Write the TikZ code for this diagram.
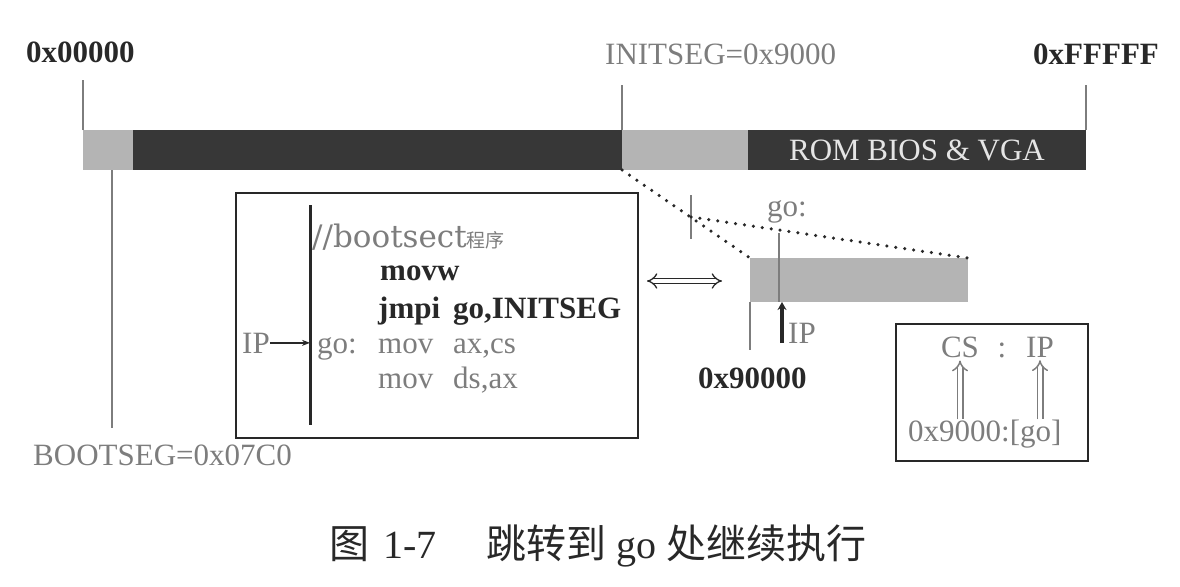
\documentclass[tikz,border=0pt]{standalone}
\usepackage{fontspec}
\setmainfont{Liberation Serif}
\newfontfamily\cjk{Noto Sans CJK SC}
\newfontfamily\cmtfont{DejaVu Serif}
\usetikzlibrary{positioning,arrows.meta}
\definecolor{inkdark}{RGB}{40,40,40}
\definecolor{inkgray}{RGB}{125,125,125}
\definecolor{bardark}{RGB}{55,55,55}
\definecolor{hatchgray}{RGB}{180,180,180}
\newcommand{\lblfont}{\fontsize{31}{36}\selectfont}

\begin{document}
\begin{tikzpicture}[
    x=1pt, y=-1pt,
    seg/.style={rectangle, inner sep=0pt, outer sep=0pt, minimum height=40pt, anchor=north west},
    lbl/.style={inner sep=0pt, anchor=base west, font=\lblfont, text=inkgray},
    dark lbl/.style={lbl, text=inkdark, font=\lblfont\bfseries},
    tick/.style={draw=inkgray, line width=1.4pt},
    frame/.style={rectangle, draw=inkdark, line width=2pt, inner sep=0pt, anchor=north west},
    dots/.style={draw=inkdark, line width=3.5pt, dash pattern=on 0pt off 9pt, line cap=round},
    hollow/.style={draw=inkgray, double=white, double distance=4pt, line width=1.5pt,
                   -{Implies[length=7pt, width=14pt]}, shorten >=3pt}
]
    \useasboundingbox (0,0) rectangle (1180,586);

    % memory bar
    \node[seg, fill=hatchgray, minimum width=50pt] (bootarea) at (83,130) {};
    \node[seg, fill=bardark, minimum width=489pt, right=0pt of bootarea] (lowmem) {};
    \node[seg, fill=hatchgray, minimum width=126pt, right=0pt of lowmem] (initarea) {};
    \node[seg, fill=bardark, minimum width=338pt, right=0pt of initarea,
          font=\lblfont, text=white!90!black] (rom) {ROM BIOS \& VGA};

    \node[dark lbl] (lo) at (26,63) {0x00000};
    \node[lbl] (initlbl) at (605,65) {INITSEG=0x9000};
    \node[dark lbl] (hi) at (1033,65) {0xFFFFF};
    \node[lbl] (bootlbl) at (33,465) {BOOTSEG=0x07C0};

    \draw[tick] (bootarea.north west) -- ++(0,-50);
    \draw[tick] (initarea.north west) -- ++(0,-45);
    \draw[tick] (rom.north east) -- ++(0,-45);
    \coordinate (bootpt) at (112,170);
    \draw[tick] (bootpt) -- ++(0,258);

    % bootsect code
    \node[frame, minimum width=402pt, minimum height=245pt] (code) at (235,192) {};
    \coordinate (ctop) at (310,205);
    \coordinate (cbot) at (310,425);
    \draw[inkdark, line width=3pt] (ctop) -- (cbot);
    \node[lbl, font=\cmtfont\fontsize{31}{36}\selectfont] (cmt) at (312,247)
        {//bootsect{\cjk\fontsize{19}{20}\selectfont 程序}};
    \node[dark lbl] (movw) at (380,280) {movw};
    \node[dark lbl] (jmpi) at (378,318) {jmpi};
    \node[dark lbl] (jmparg) at (453,318) {go,INITSEG};
    \node[lbl] (golbl) at (317,353) {go:};
    \node[lbl] (mova) at (378,353) {mov};
    \node[lbl] (movaarg) at (453,353) {ax,cs};
    \node[lbl] (movb) at (378,388) {mov};
    \node[lbl] (movbarg) at (453,388) {ds,ax};
    \node[lbl] (ipcode) at (242,353) {IP};
    \draw[inkdark, line width=1.5pt, -{Stealth[length=8pt]}] (ipcode.east) -- (ipcode.east -| ctop);

    \coordinate (eqleft) at (647,281);
    \coordinate (eqright) at (722,281);
    \draw[draw=inkdark, double=white, double distance=4pt, line width=1.3pt,
          {Implies[length=8pt, width=16pt]}-{Implies[length=8pt, width=16pt]}] (eqleft) -- (eqright);

    % expanded INITSEG segment
    \node[seg, fill=hatchgray, minimum width=218pt, minimum height=44pt] (zoombar) at (750,258) {};
    \coordinate (gopt) at (691,217);
    \draw[tick] (gopt) ++(0,-22) -- ++(0,44);
    \draw[dots] (initarea.south west) -- (zoombar.north west);
    \draw[dots] (gopt) -- (zoombar.north east);
    \node[lbl] (gobar) at (767,216) {go:};
    \coordinate (goline) at (779,233);
    \draw[tick] (goline) -- (goline |- zoombar.south);
    \node[lbl] (ipbar) at (788,343) {IP};
    \coordinate (ipfoot) at ([xshift=-6pt]ipbar.south west);
    \draw[inkdark, line width=3.5pt, -{Stealth[length=8pt, width=9pt]}] (ipfoot) -- (ipfoot |- zoombar.south);
    \draw[tick] (zoombar.south west) -- ++(0,48);
    \node[dark lbl] (seg9) at (698,388) {0x90000};

    % CS:IP
    \node[frame, minimum width=192pt, minimum height=137pt] (csbox) at (895,323) {};
    \node[lbl, anchor=base] (cs) at (960,357) {CS};
    \node[lbl, anchor=base] (colon) at (1002,357) {:};
    \node[lbl, anchor=base] (ip) at (1040,357) {IP};
    \node[lbl] (segaddr) at (908,441) {0x9000:[go]};
    \draw[hollow] (segaddr.north -| cs.south) -- (cs.south);
    \draw[hollow] (segaddr.north -| ip.south) -- (ip.south);

    \node[font=\fontsize{40}{44}\selectfont, text=inkdark, inner sep=0pt] (caption) at (598,546)
        {{\cjk 图}\hspace{14pt}1-7\hspace{50pt}{\cjk 跳转到}\hspace{10pt}go\hspace{10pt}{\cjk 处继续执行}};
\end{tikzpicture}
\end{document}
